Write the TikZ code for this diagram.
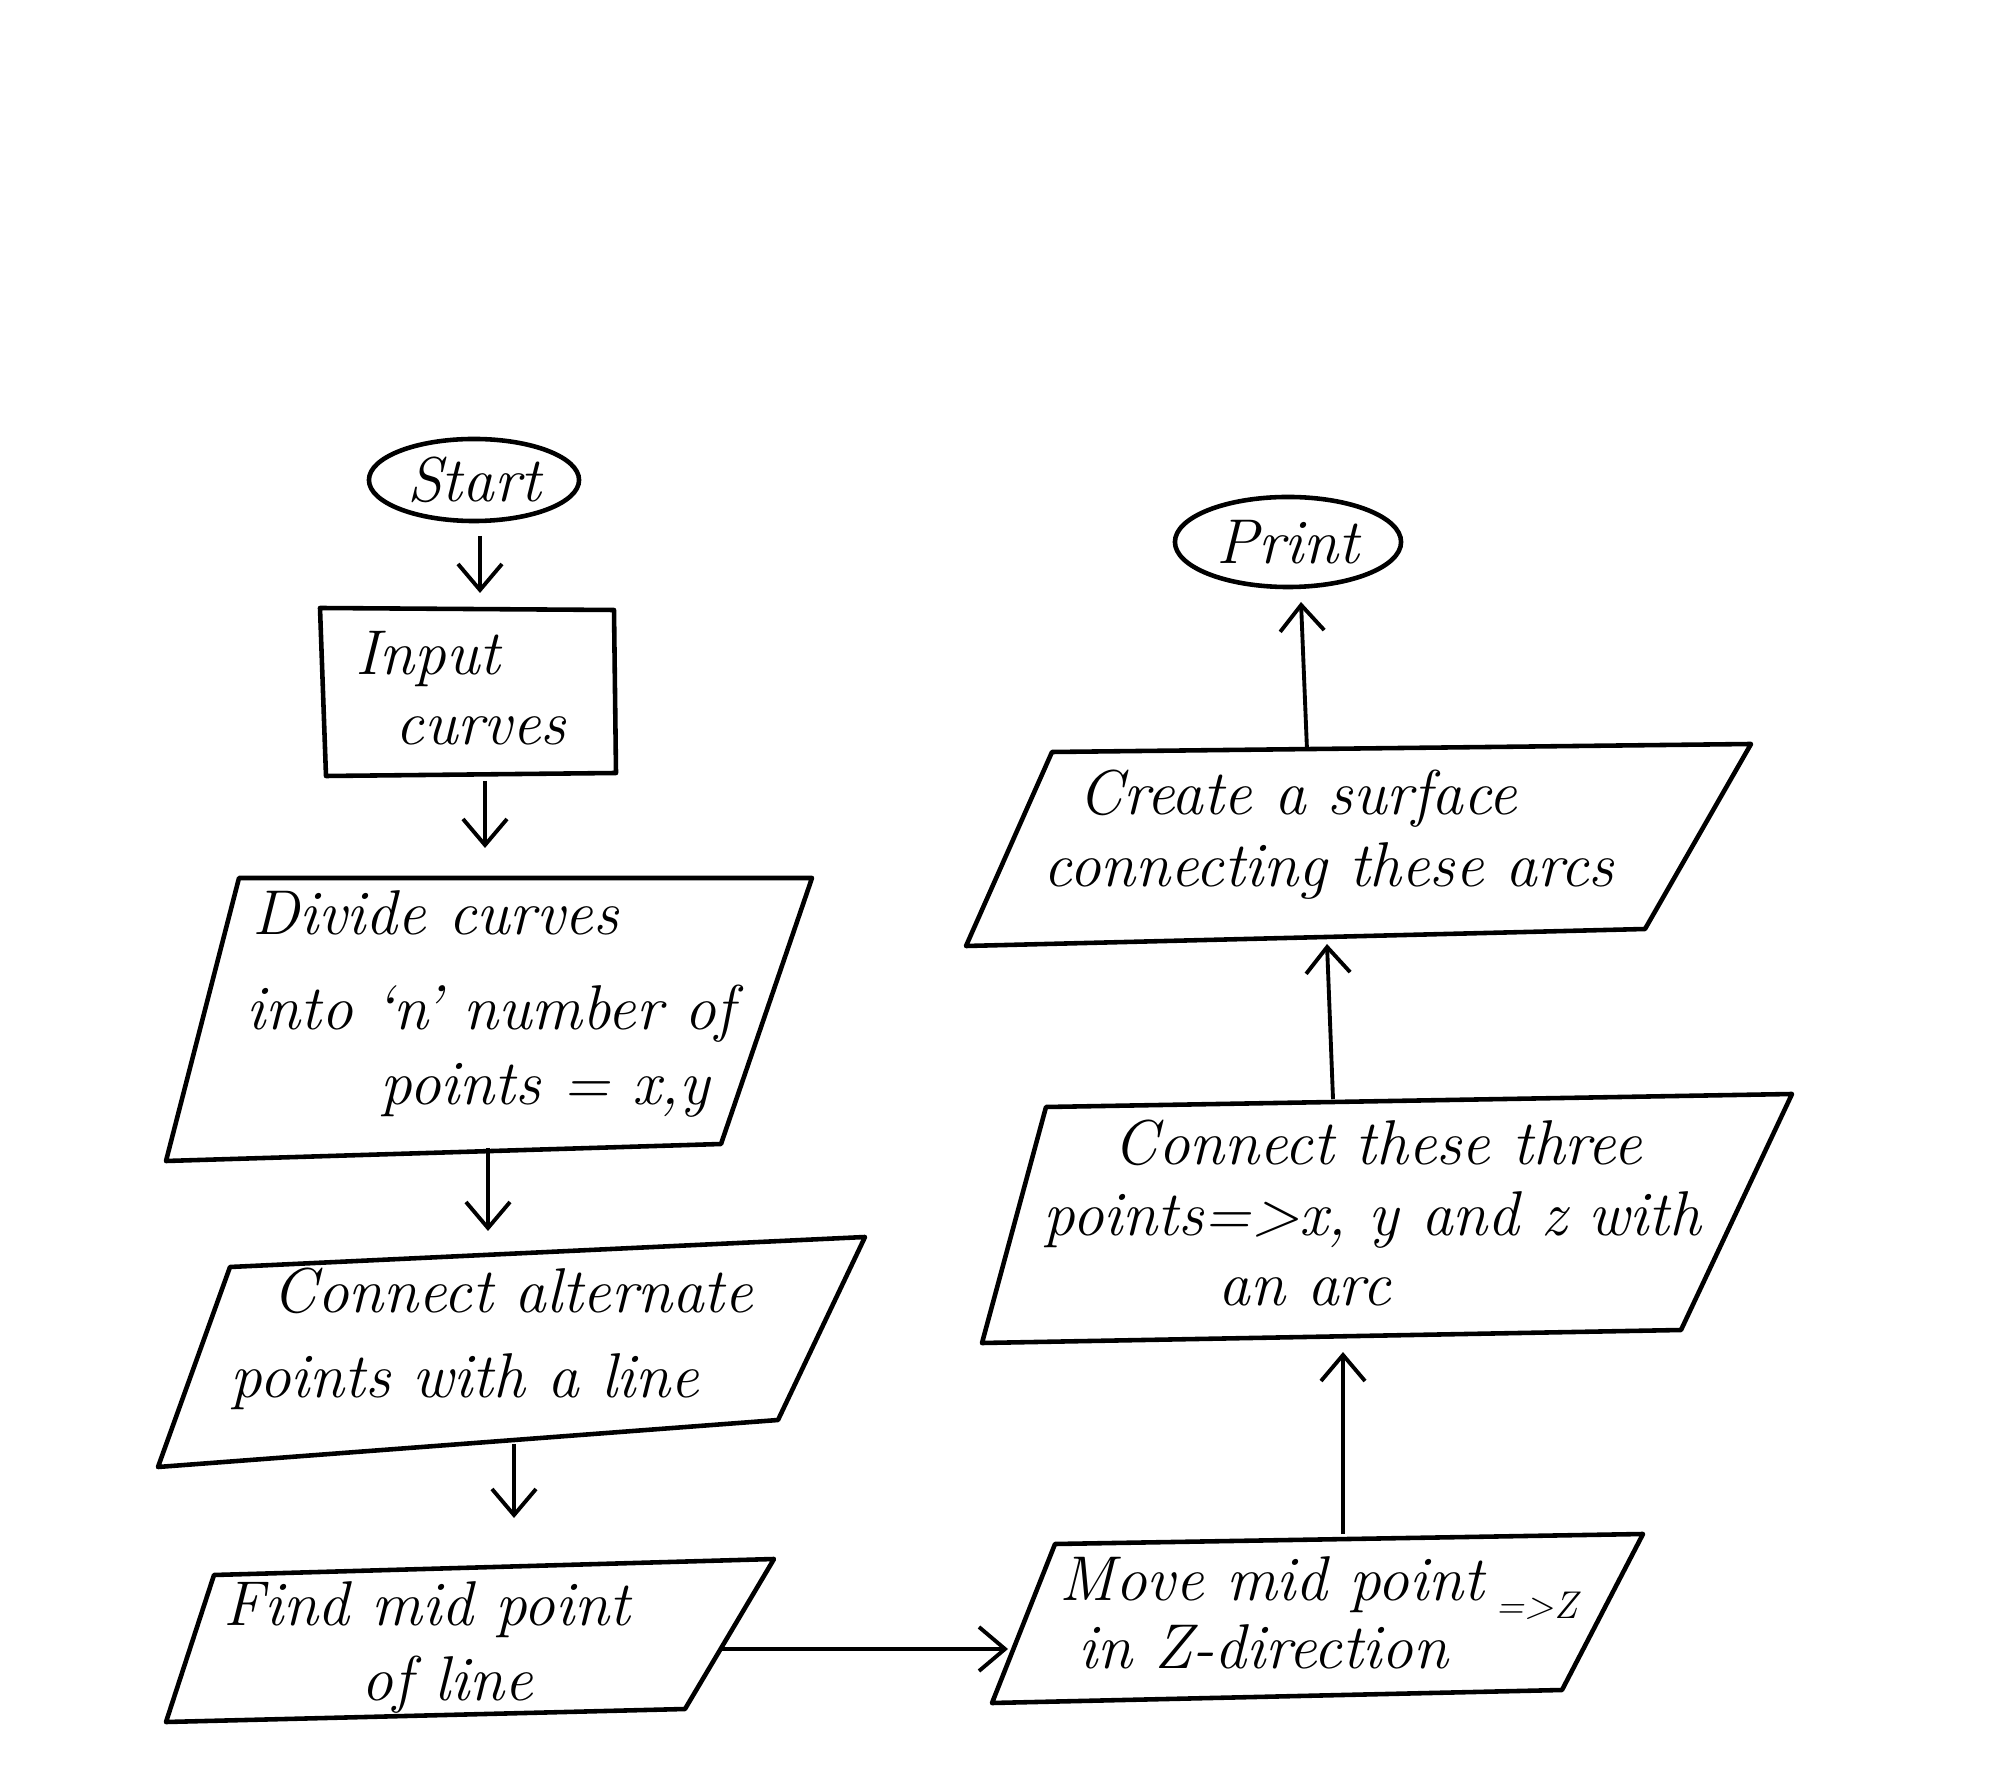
\documentclass[tikz,border=0pt]{standalone}
\usetikzlibrary{shapes.geometric,arrows.meta}
\begin{document}
\begin{tikzpicture}[x=0.01cm,y=-0.01cm,
  shapeline/.style={line width=1.3pt, line join=round},
  conn/.style={line width=1.1pt,-{Straight Barb[length=2.6mm,width=4.4mm,line width=1.1pt]}},
  lbl/.style={anchor=base west, inner sep=0pt, font=\fontsize{18}{22}\selectfont\itshape},
  small/.style={anchor=base west, inner sep=0pt, font=\fontsize{11}{13}\selectfont\itshape},
  term/.style={ellipse, draw, line width=1.3pt, inner sep=0pt, font=\fontsize{18}{22}\selectfont\itshape}]
\useasboundingbox (0,0) rectangle (2000,1783);

% terminals
\node[term, minimum width=2.1cm, minimum height=0.82cm] (start) at (474,480) {Start};
\node[term, minimum width=2.26cm, minimum height=0.9cm] (print) at (1288,542) {Print};

% input rectangle
\draw[shapeline] (320,608) coordinate (in-tl) -- (614,610) coordinate (in-tr)
  -- (616,773) coordinate (in-br) -- (326,776) coordinate (in-bl) -- cycle;
\node[lbl] (in1) at (355,675) {Input};
\node[lbl] (in2) at (395,745) {curves};

% divide
\draw[shapeline] (239,878) coordinate (dv-tl) -- (812,878) coordinate (dv-tr)
  -- (721,1144) coordinate (dv-br) -- (166,1161) coordinate (dv-bl) -- cycle;
\node[lbl] (dv1) at (252,935) {Divide curves};
\node[lbl] (dv2) at (246,1030) {into `n' number of};
\node[lbl] (dv3) at (380,1105) {points = x,y};

% connect alternate
\draw[shapeline] (230,1267) coordinate (ca-tl) -- (865,1237) coordinate (ca-tr)
  -- (778,1420) coordinate (ca-br) -- (158,1467) coordinate (ca-bl) -- cycle;
\node[lbl] (ca1) at (272,1312) {Connect alternate};
\node[lbl] (ca2) at (230,1397) {points with a line};

% find mid point
\draw[shapeline] (214,1575) coordinate (fd-tl) -- (774,1559) coordinate (fd-tr)
  -- (685,1709) coordinate (fd-br) -- (166,1722) coordinate (fd-bl) -- cycle;
\node[lbl] (fd1) at (223,1625) {Find mid point};
\node[lbl] (fd2) at (361,1700) {of line};

% move mid point
\draw[shapeline] (1055,1544) coordinate (mv-tl) -- (1643,1534) coordinate (mv-tr)
  -- (1562,1690) coordinate (mv-br) -- (992,1703) coordinate (mv-bl) -- cycle;
\node[lbl] (mv1) at (1059,1600) {Move mid point};
\node[lbl] (mv2) at (1078,1668) {in Z-direction};
\node[small] (mv3) at (1495,1618) {=>Z};

% connect three
\draw[shapeline] (1046,1107) coordinate (ct-tl) -- (1792,1094) coordinate (ct-tr)
  -- (1681,1330) coordinate (ct-br) -- (982,1343) coordinate (ct-bl) -- cycle;
\node[lbl] (ct1) at (1113,1165) {Connect these three};
\node[lbl] (ct2) at (1043,1235) {points=>x, y and z with};
\node[lbl] (ct3) at (1218,1305) {an arc};

% create surface
\draw[shapeline] (1052,752) coordinate (cr-tl) -- (1751,744) coordinate (cr-tr)
  -- (1645,929) coordinate (cr-br) -- (966,946) coordinate (cr-bl) -- cycle;
\node[lbl] (cr1) at (1078,815) {Create a surface};
\node[lbl] (cr2) at (1043,887) {connecting these arcs};

% connector end points
\coordinate (a1s) at (480,536);  \coordinate (a1e) at (480,593);
\coordinate (a2s) at (485,781);  \coordinate (a2e) at (485,848);
\coordinate (a3s) at (488,1148); \coordinate (a3e) at (488,1231);
\coordinate (a4s) at (514,1444); \coordinate (a4e) at (514,1518);
\coordinate (a5s) at (721,1649); \coordinate (a5e) at (1008,1649);
\coordinate (a6s) at (1343,1534); \coordinate (a6e) at (1343,1352);
\coordinate (a7s) at (1333,1099); \coordinate (a7e) at (1327,944);
\coordinate (a8s) at (1307,750); \coordinate (a8e) at (1301,602);

\draw[conn] (a1s) -- (a1e);
\draw[conn] (a2s) -- (a2e);
\draw[conn] (a3s) -- (a3e);
\draw[conn] (a4s) -- (a4e);
\draw[conn] (a5s) -- (a5e);
\draw[conn] (a6s) -- (a6e);
\draw[conn] (a7s) -- (a7e);
\draw[conn] (a8s) -- (a8e);
\end{tikzpicture}
\end{document}
